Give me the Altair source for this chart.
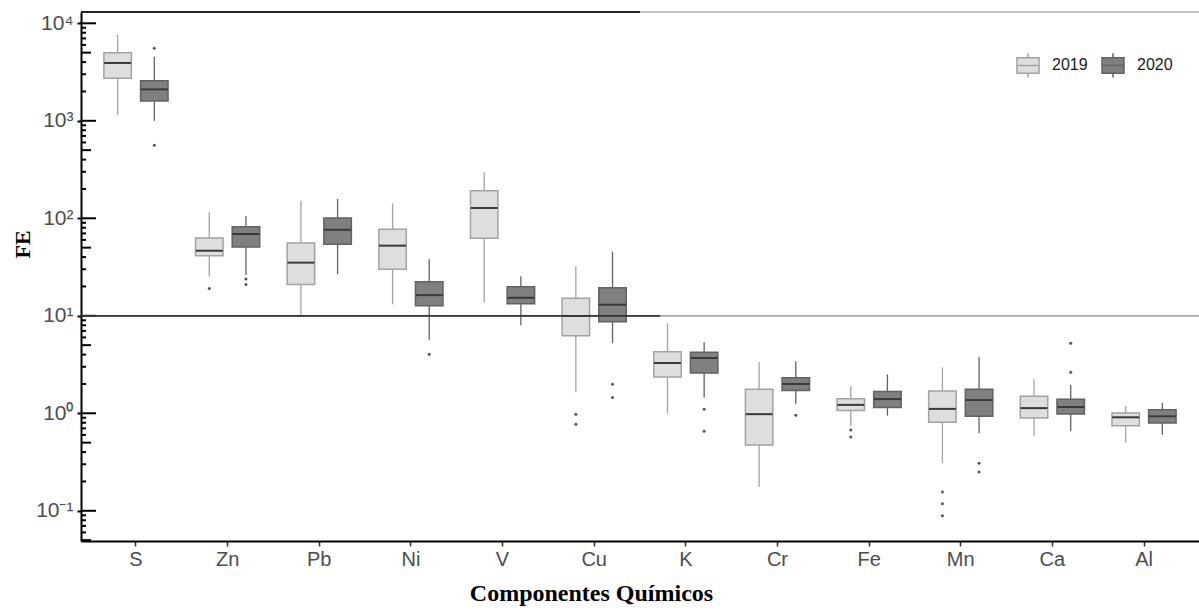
import altair as alt
import pandas as pd

# Chemical components (x categories) and sampling years
elements = ["S", "Zn", "Pb", "Ni", "V", "Cu", "K", "Cr", "Fe", "Mn", "Ca", "Al"]
years = ["2019", "2020"]

# Box statistics of the enrichment factor (FE) per component
lo_2019 = [1146, 25.2, 9.8, 13.1, 13.8, 1.64, 0.99, 0.175, 0.741, 0.307, 0.585, 0.50]
q1_2019 = [2730, 41.3, 21.0, 30.0, 62.3, 6.25, 2.36, 0.473, 1.07, 0.809, 0.895, 0.746]
med_2019 = [3920, 46.5, 35.1, 52.4, 127.6, 9.95, 3.28, 0.98, 1.22, 1.11, 1.13, 0.910]
q3_2019 = [4990, 62.8, 55.8, 77.1, 192, 15.1, 4.28, 1.76, 1.41, 1.69, 1.50, 1.01]
hi_2019 = [7590, 115, 151.6, 142.6, 296, 32.6, 8.38, 3.36, 1.89, 2.96, 2.23, 1.19]

lo_2020 = [1002, 26.2, 26.7, 5.69, 8.0, 5.22, 1.45, 1.25, 0.945, 0.623, 0.654, 0.603]
q1_2020 = [1597, 50.8, 54.1, 12.7, 13.3, 8.7, 2.59, 1.71, 1.15, 0.931, 0.984, 0.795]
med_2020 = [2100, 69, 76.4, 16.3, 15.3, 13.0, 3.69, 2.0, 1.40, 1.37, 1.16, 0.931]
q3_2020 = [2580, 82, 100.7, 22.4, 19.9, 19.4, 4.22, 2.32, 1.67, 1.76, 1.39, 1.09]
hi_2020 = [4540, 105.6, 157.8, 38.2, 25.4, 45.4, 5.35, 3.41, 2.51, 3.81, 1.95, 1.28]

# Outlying observations
out_elem_2019 = ["Zn", "Cu", "Cu", "Fe", "Fe", "Mn", "Mn", "Mn"]
out_val_2019 = [19.1, 0.98, 0.771, 0.675, 0.571, 0.156, 0.118, 0.089]
out_elem_2020 = ["S", "S", "Zn", "Zn", "Ni", "Cu", "Cu", "K", "K", "Cr", "Mn", "Mn", "Ca", "Ca"]
out_val_2020 = [5540, 561, 23.8, 21.0, 4.03, 1.98, 1.45, 1.10, 0.654, 0.954, 0.307, 0.250, 5.22, 2.63]

# Log-axis tick values (decades, halves and the remaining minor ticks)
major_vals = [0.1, 1, 10, 100, 1000, 10000]
mid_vals = [0.05, 0.5, 5, 50, 500, 5000]
minor_vals = [0.06, 0.07, 0.08, 0.09,
              0.2, 0.3, 0.4, 0.6, 0.7, 0.8, 0.9,
              2, 3, 4, 6, 7, 8, 9,
              20, 30, 40, 60, 70, 80, 90,
              200, 300, 400, 600, 700, 800, 900,
              2000, 3000, 4000, 6000, 7000, 8000, 9000]
ref_value = 10

rows = []
for yr, lo, q1, md, q3, hi in [
    ("2019", lo_2019, q1_2019, med_2019, q3_2019, hi_2019),
    ("2020", lo_2020, q1_2020, med_2020, q3_2020, hi_2020),
]:
    for e, a, b, c, d, f in zip(elements, lo, q1, md, q3, hi):
        rows.append(dict(elem=e, year=yr, lo=a, q1=b, med=c, q3=d, hi=f))
box = pd.DataFrame(rows)

outliers = pd.DataFrame(
    [dict(elem=e, year="2019", v=v) for e, v in zip(out_elem_2019, out_val_2019)]
    + [dict(elem=e, year="2020", v=v) for e, v in zip(out_elem_2020, out_val_2020)]
)

W, H = 1118, 529

xscale = alt.Scale(domain=elements, paddingInner=0, paddingOuter=0.1)
xoff_scale = alt.Scale(domain=years, paddingInner=0.25, paddingOuter=0.375)
yscale = alt.Scale(type="log", domain=[0.049, 13060], nice=False)
fill_scale = alt.Scale(domain=years, range=["#dedede", "#808080"])
stroke_scale = alt.Scale(domain=years, range=["#a3a3a3", "#626262"])

xaxis = alt.Axis(
    title="Componentes Químicos", labelAngle=0, labelFont="Liberation Sans",
    labelFontSize=20, labelColor="#4d4d4d", labelPadding=3,
    tickSize=5, tickColor="#333333", tickWidth=1.5,
    domainColor="#000000", domainWidth=2,
    titleFont="Liberation Serif", titleFontSize=24, titleFontWeight="bold",
    titleColor="#000000", titleX=510, titleY=59, titleBaseline="alphabetic",
    titleAlign="center", grid=False,
)

label_expr = ("datum.value < 0.5 ? '10⁻¹' : datum.value < 5 ? '10⁰' : "
              "datum.value < 50 ? '10¹' : datum.value < 500 ? '10²' : "
              "datum.value < 5000 ? '10³' : '10⁴'")

yaxis = alt.Axis(
    values=major_vals, tickSize=4, tickWidth=2, tickColor="#000000",
    domain=True, domainColor="#000000", domainWidth=2, grid=False,
    labelExpr=label_expr, labelFont="Liberation Sans", labelFontSize=21,
    labelColor="#4d4d4d", labelPadding=4,
    title="FE", titleFont="Liberation Serif", titleFontSize=22,
    titleFontWeight="bold", titleColor="#000000", titleX=-52, titleY=232,
    titleAngle=270, titleBaseline="alphabetic", titleAlign="center",
)

# Legend glyph: box with median line and whisker stubs
legend_symbol = "M-1,-0.7H1V0.7H-1Z M-1,0H1 M0,-0.7V-1.1 M0,0.7V1.1"
box_legend = alt.Legend(
    title=None, orient="none", legendX=935, legendY=41, direction="horizontal",
    symbolType=legend_symbol, symbolSize=484, symbolStrokeWidth=1.5,
    labelFont="Liberation Sans", labelFontSize=16, labelColor="#1a1a1a",
    labelOffset=12, columnPadding=11, padding=0,
)

X = alt.X("elem:N", scale=xscale, axis=xaxis, sort=elements)
XO = alt.XOffset("year:N", scale=xoff_scale, sort=years)
STROKE = alt.Stroke("year:N", scale=stroke_scale, legend=box_legend)

base = alt.Chart(box)

whiskers = base.mark_rule(strokeWidth=1.3).encode(
    x=X, xOffset=XO,
    y=alt.Y("lo:Q", scale=yscale, axis=yaxis),
    y2="hi:Q",
    stroke=STROKE,
)

boxes = base.mark_bar(strokeWidth=1.5).encode(
    x=X, xOffset=XO,
    y=alt.Y("q1:Q", scale=yscale, axis=yaxis),
    y2="q3:Q",
    fill=alt.Fill("year:N", scale=fill_scale, legend=box_legend),
    stroke=STROKE,
)

medians = base.mark_tick(orient="horizontal", size=27, thickness=2, color="#3a3a3a", opacity=1).encode(
    x=X, xOffset=XO,
    y=alt.Y("med:Q", scale=yscale, axis=yaxis),
)

points = alt.Chart(outliers).mark_circle(size=9, color="#555555", opacity=1).encode(
    x=X, xOffset=XO,
    y=alt.Y("v:Q", scale=yscale, axis=yaxis),
)

# Inward tick marks of the log axis, longer for decades and halves
tick_layers = [
    alt.Chart(pd.DataFrame({"v": vals})).mark_rule(color="#000000", strokeWidth=2).encode(
        y=alt.Y("v:Q", scale=yscale, axis=yaxis), x=alt.value(0), x2=alt.value(n)
    )
    for vals, n in [(major_vals, 15), (mid_vals, 10), (minor_vals, 5)]
]

ref_df = pd.DataFrame({"v": [ref_value]})
ref_light = alt.Chart(ref_df).mark_rule(color="#8c8c8c", strokeWidth=1.2).encode(
    y=alt.Y("v:Q", scale=yscale, axis=yaxis),
    x=alt.value(0), x2=alt.value(W),
)
ref_dark = alt.Chart(ref_df).mark_rule(color="#333333", strokeWidth=1.8).encode(
    y=alt.Y("v:Q", scale=yscale, axis=yaxis),
    x=alt.value(0), x2=alt.value(579),
)
top_light = alt.Chart(ref_df).mark_rule(color="#8c8c8c", strokeWidth=1.2).encode(
    y=alt.value(0), x=alt.value(0), x2=alt.value(W),
)
top_dark = alt.Chart(ref_df).mark_rule(color="#222222", strokeWidth=2).encode(
    y=alt.value(0), x=alt.value(0), x2=alt.value(559),
)

chart = (
    alt.layer(whiskers, boxes, medians, points, *tick_layers,
              ref_light, ref_dark, top_light, top_dark)
    .properties(
        width=W, height=H,
        autosize=alt.AutoSizeParams(type="none"),
        padding={"left": 81, "top": 12, "right": 0, "bottom": 69},
        background="white",
    )
    .configure_view(stroke=None)
)

chart.save("out.html", embed_options={"renderer": "svg", "actions": False})
